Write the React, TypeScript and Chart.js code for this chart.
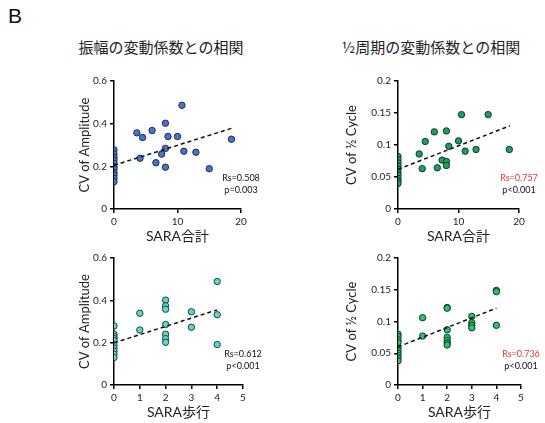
import React, { useEffect, useRef } from "react";
import { Chart, registerables } from "chart.js";

Chart.register(...registerables);

const FONT = 'Lato, "Noto Sans CJK JP", sans-serif';
const CJK = '"Noto Sans CJK JP", sans-serif';

// Top-left: SARA total vs CV of Amplitude
const ampTotalX = [0, 0, 0, 0, 0, 0, 0, 0, 0, 0, 0, 3.6, 4.1, 4.5, 6.0, 6.6, 7.5, 8.1, 8.1, 8.1, 8.5, 10.0, 10.7, 11.0, 12.9, 15.0, 18.5];
const ampTotalY = [0.277, 0.258, 0.242, 0.23, 0.214, 0.198, 0.186, 0.17, 0.159, 0.144, 0.128, 0.357, 0.238, 0.335, 0.368, 0.217, 0.257, 0.402, 0.284, 0.196, 0.34, 0.34, 0.486, 0.271, 0.266, 0.189, 0.327];
const ampTotalTrendX = [0, 18.5];
const ampTotalTrendY = [0.205, 0.378];

// Top-right: SARA total vs CV of 1/2 cycle
const cycTotalX = [0, 0, 0, 0, 0, 0, 0, 0, 0, 0, 3.5, 4.0, 4.5, 6.0, 6.5, 7.3, 8.0, 8.0, 8.0, 8.4, 10.0, 10.5, 11.1, 12.9, 14.9, 18.4];
const cycTotalY = [0.082, 0.077, 0.072, 0.067, 0.062, 0.057, 0.053, 0.048, 0.044, 0.04, 0.086, 0.063, 0.1055, 0.1205, 0.0644, 0.0764, 0.122, 0.0743, 0.068, 0.098, 0.1065, 0.1475, 0.0904, 0.093, 0.1475, 0.093];
const cycTotalTrendX = [0, 18.5];
const cycTotalTrendY = [0.062, 0.13];

// Bottom-left: SARA gait vs CV of Amplitude
const ampGaitX = [0, 0, 0, 0, 0, 0, 0, 0, 0, 0, 1, 1, 2, 2, 2, 2, 2, 2, 2, 3, 3, 4, 4, 4];
const ampGaitY = [0.279, 0.24, 0.23, 0.22, 0.21, 0.19, 0.175, 0.16, 0.145, 0.13, 0.339, 0.26, 0.401, 0.374, 0.358, 0.286, 0.24, 0.219, 0.202, 0.346, 0.273, 0.489, 0.332, 0.191];
const ampGaitTrendX = [0, 4];
const ampGaitTrendY = [0.199, 0.355];

// Bottom-right: SARA gait vs CV of 1/2 cycle
const cycGaitX = [0, 0, 0, 0, 0, 0, 0, 0, 0, 0, 1, 1, 2, 2, 2, 2, 2, 2, 2, 3, 3, 3, 3, 4, 4, 4];
const cycGaitY = [0.08, 0.076, 0.071, 0.067, 0.058, 0.054, 0.05, 0.046, 0.042, 0.038, 0.106, 0.077, 0.122, 0.121, 0.087, 0.075, 0.07, 0.066, 0.063, 0.108, 0.098, 0.094, 0.09, 0.149, 0.147, 0.094];
const cycGaitTrendX = [0, 4];
const cycGaitTrendY = [0.06, 0.121];

const titles = ["振幅の変動係数との相関", "½周期の変動係数との相関"];
const xTitles = ["SARA合計", "SARA歩行"];
const yTitles = ["CV of Amplitude", "CV of ½ Cycle"];
const statsTL = ["Rs=0.508", "p=0.003"];
const statsTR = ["Rs=0.757", "p<0.001"];
const statsBL = ["Rs=0.612", "p<0.001"];
const statsBR = ["Rs=0.736", "p<0.001"];

const zip = (xs: number[], ys: number[]) => xs.map((x, i) => ({ x, y: ys[i] }));
const fmt = (v: any) => String(Number(Number(v).toFixed(3)));

type Box = { l: number; t: number; r: number; b: number };

interface PanelProps {
  canvas: Box;
  area: Box;
  xs: number[];
  ys: number[];
  tx: number[];
  ty: number[];
  xMax: number;
  xStep: number;
  yMax: number;
  yStep: number;
  fill: string;
  edge: string;
  xTitle: string;
  yTitle: string;
  xTitleY: number;
  yTitleX: number;
  stats: string[];
  statColor: string;
}

function Panel(p: PanelProps) {
  const ref = useRef<HTMLCanvasElement>(null);
  useEffect(() => {
    if (!ref.current) return;
    const { canvas, area } = p;
    const yAxisW = area.l - canvas.l;
    const xAxisH = p.xTitleY + 8.4 - area.b;
    const padBottom = canvas.b - area.b - xAxisH;
    const annot = {
      id: "annot",
      afterDraw(chart: any) {
        const { ctx, chartArea } = chart;
        ctx.save();
        ctx.font = `9px ${FONT}`;
        ctx.textAlign = "center";
        ctx.textBaseline = "middle";
        ctx.fillStyle = p.statColor;
        ctx.fillText(p.stats[0], chartArea.right, chartArea.bottom - 31);
        ctx.fillStyle = "#111";
        ctx.fillText(p.stats[1], chartArea.right, chartArea.bottom - 19);
        ctx.restore();
      },
    };
    const zeroPad = (s: any) => {
      s.paddingLeft = 0;
      s.paddingRight = 0;
      s.paddingTop = 0;
      s.paddingBottom = 0;
    };
    const chart = new Chart(ref.current, {
      type: "scatter",
      data: {
        datasets: [
          {
            type: "scatter",
            data: zip(p.xs, p.ys),
            pointRadius: 3.2,
            pointBackgroundColor: p.fill,
            pointBorderColor: p.edge,
            pointBorderWidth: 1,
            order: 1,
          } as any,
          {
            type: "line",
            data: zip(p.tx, p.ty),
            borderColor: "#111",
            borderWidth: 1.5,
            borderDash: [4, 3],
            pointRadius: 0,
            fill: false,
            order: 0,
          } as any,
        ],
      },
      options: {
        responsive: false,
        maintainAspectRatio: false,
        animation: false,
        layout: {
          padding: { left: 0, top: area.t - canvas.t, right: canvas.r - area.r, bottom: padBottom },
        },
        plugins: { legend: { display: false }, tooltip: { enabled: false } },
        scales: {
          x: {
            type: "linear",
            min: 0,
            max: p.xMax,
            ticks: { stepSize: p.xStep, color: "#222", font: { size: 10, family: FONT }, padding: 3, maxRotation: 0, callback: fmt },
            grid: { drawOnChartArea: false, drawTicks: true, tickLength: 4, color: "#000", lineWidth: 1.5 },
            border: { display: true, color: "#000", width: 1.5 },
            title: { display: true, text: p.xTitle, color: "#222", font: { size: 14, family: FONT }, padding: { top: 0, bottom: 0 } },
            afterFit(s: any) {
              s.height = xAxisH;
              zeroPad(s);
            },
          },
          y: {
            type: "linear",
            min: 0,
            max: p.yMax,
            ticks: { stepSize: p.yStep, color: "#222", font: { size: 10, family: FONT }, padding: 3, callback: fmt },
            grid: { drawOnChartArea: false, drawTicks: true, tickLength: 4, color: "#000", lineWidth: 1.5 },
            border: { display: true, color: "#000", width: 1.5 },
            title: {
              display: true,
              text: p.yTitle,
              color: "#222",
              font: { size: 13, family: FONT },
              padding: { top: p.yTitleX - canvas.l - 7.8, bottom: 0 },
            },
            afterFit(s: any) {
              s.width = yAxisW;
              zeroPad(s);
            },
          },
        },
      },
      plugins: [annot],
    } as any);
    return () => chart.destroy();
  }, []);
  const { canvas } = p;
  return (
    <canvas
      ref={ref}
      width={canvas.r - canvas.l}
      height={canvas.b - canvas.t}
      style={{
        position: "absolute",
        left: canvas.l,
        top: canvas.t,
        width: canvas.r - canvas.l,
        height: canvas.b - canvas.t,
      }}
    />
  );
}

export default function App() {
  return (
    <div style={{ position: "fixed", left: 0, top: 0, width: 545, height: 423, background: "#fff", overflow: "hidden" }}>
      <div style={{ position: "absolute", left: 8, top: 4, fontFamily: '"Liberation Sans", Arial, sans-serif', fontSize: 21, color: "#111" }}>B</div>
      <div style={{ position: "absolute", left: 61, width: 200, top: 36, textAlign: "center", fontFamily: CJK, fontSize: 15, color: "#222", whiteSpace: "nowrap" }}>{titles[0]}</div>
      <div style={{ position: "absolute", left: 331, width: 200, top: 36, textAlign: "center", fontFamily: CJK, fontSize: 15, color: "#222", whiteSpace: "nowrap" }}>{titles[1]}</div>
      <Panel
        canvas={{ l: 0, t: 60, r: 272, b: 250 }}
        area={{ l: 114, t: 81, r: 241, b: 209 }}
        xs={ampTotalX} ys={ampTotalY} tx={ampTotalTrendX} ty={ampTotalTrendY}
        xMax={20} xStep={10} yMax={0.6} yStep={0.2}
        fill="#4a74c9" edge="#1c2c55"
        xTitle={xTitles[0]} yTitle={yTitles[0]} xTitleY={236} yTitleX={85}
        stats={statsTL} statColor="#111"
      />
      <Panel
        canvas={{ l: 272, t: 60, r: 545, b: 250 }}
        area={{ l: 398, t: 81, r: 519, b: 209 }}
        xs={cycTotalX} ys={cycTotalY} tx={cycTotalTrendX} ty={cycTotalTrendY}
        xMax={20} xStep={10} yMax={0.2} yStep={0.05}
        fill="#1f9e62" edge="#0b3b22"
        xTitle={xTitles[0]} yTitle={yTitles[1]} xTitleY={236} yTitleX={352}
        stats={statsTR} statColor="#e8333a"
      />
      <Panel
        canvas={{ l: 0, t: 250, r: 272, b: 423 }}
        area={{ l: 114, t: 258, r: 243, b: 385 }}
        xs={ampGaitX} ys={ampGaitY} tx={ampGaitTrendX} ty={ampGaitTrendY}
        xMax={5} xStep={1} yMax={0.6} yStep={0.2}
        fill="#5fd6c8" edge="#1b4542"
        xTitle={xTitles[1]} yTitle={yTitles[0]} xTitleY={412} yTitleX={85}
        stats={statsBL} statColor="#111"
      />
      <Panel
        canvas={{ l: 272, t: 250, r: 545, b: 423 }}
        area={{ l: 398, t: 258, r: 521, b: 385 }}
        xs={cycGaitX} ys={cycGaitY} tx={cycGaitTrendX} ty={cycGaitTrendY}
        xMax={5} xStep={1} yMax={0.2} yStep={0.05}
        fill="#2cc26a" edge="#0b3b22"
        xTitle={xTitles[1]} yTitle={yTitles[1]} xTitleY={412} yTitleX={352}
        stats={statsBR} statColor="#e8333a"
      />
    </div>
  );
}
